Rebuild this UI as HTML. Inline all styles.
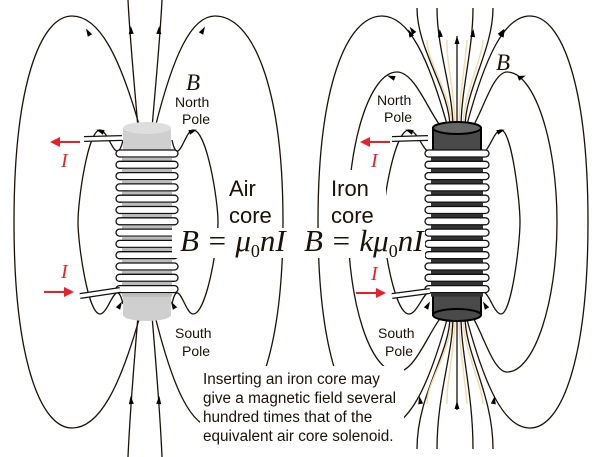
<!DOCTYPE html>
<html><head><meta charset="utf-8"><style>
html,body{margin:0;padding:0;background:#fff}
svg{display:block}
.s{font-family:"Liberation Sans",sans-serif;fill:#1a1208}
.m{font-family:"Liberation Serif",serif;font-style:italic;fill:#1a1208}
</style></head><body>
<svg width="601" height="457" viewBox="0 0 601 457" xmlns="http://www.w3.org/2000/svg">
<g fill="none" stroke="#1a1208" stroke-width="1.3" id="lines"></g>
<g id="coils"></g>
<rect x="172" y="228" width="118" height="30" fill="#fff"/>
<rect x="300" y="228" width="125" height="30" fill="#fff"/>
<rect x="226" y="170" width="50" height="58" fill="#fff"/>
<rect x="328" y="170" width="58" height="58" fill="#fff"/>
<rect x="200" y="366" width="204" height="82" fill="#fff"/>
<text class="m" x="186" y="90" font-size="23">B</text>
<text class="m" x="496" y="70" font-size="23">B</text>
<text class="s" x="175" y="107" font-size="14">North</text>
<text class="s" x="182" y="124" font-size="14">Pole</text>
<text class="s" x="377" y="105" font-size="14">North</text>
<text class="s" x="384" y="122" font-size="14">Pole</text>
<text class="s" x="175" y="338" font-size="14">South</text>
<text class="s" x="182" y="356" font-size="14">Pole</text>
<text class="s" x="378" y="338" font-size="14">South</text>
<text class="s" x="385" y="356" font-size="14">Pole</text>
<text class="s" x="229" y="196" font-size="22">Air</text>
<text class="s" x="229" y="223" font-size="22">core</text>
<text class="s" x="331" y="196" font-size="22">Iron</text>
<text class="s" x="331" y="223" font-size="22">core</text>
<text class="m" x="180" y="251" font-size="31">B = <tspan>μ</tspan><tspan font-size="18" dy="6" font-style="normal">0</tspan><tspan dy="-6">nI</tspan></text>
<text class="m" x="304" y="251" font-size="31">B = kμ<tspan font-size="18" dy="6" font-style="normal">0</tspan><tspan dy="-6">nI</tspan></text>
<g class="s" font-size="15.3">
<text x="203" y="384">Inserting an iron core may</text>
<text x="203" y="403">give a magnetic field several</text>
<text x="203" y="422">hundred times that of the</text>
<text x="203" y="441">equivalent air core solenoid.</text>
</g>
<g fill="#e8202a" stroke="#e8202a">
<line x1="58" y1="142" x2="80" y2="142" stroke-width="2"/><path d="M50,142 L60,137 L60,147z" stroke="none"/>
<line x1="44" y1="292" x2="66" y2="292" stroke-width="2"/><path d="M74,292 L64,287 L64,297z" stroke="none"/>
<line x1="368" y1="142" x2="390" y2="142" stroke-width="2"/><path d="M360,142 L370,137 L370,147z" stroke="none"/>
<line x1="356" y1="293" x2="378" y2="293" stroke-width="2"/><path d="M386,293 L376,288 L376,298z" stroke="none"/>
</g>
<g class="m" font-size="20" style="fill:#e8202a">
<text x="61" y="167">I</text><text x="61" y="278">I</text>
<text x="371" y="167">I</text><text x="371" y="280">I</text>
</g>
</svg>
<script>
const NS="http://www.w3.org/2000/svg";
const L=document.getElementById("lines"),C=document.getElementById("coils");
function p(d,col,w){const e=document.createElementNS(NS,"path");e.setAttribute("d",d);if(col)e.setAttribute("stroke",col);if(w)e.setAttribute("stroke-width",w);L.appendChild(e);return e;}
function arrow(x,y,ang){const e=document.createElementNS(NS,"path");e.setAttribute("d","M-4,-2.5 L4,0 L-4,2.5z");e.setAttribute("fill","#000");e.setAttribute("stroke","none");e.setAttribute("transform",`translate(${x},${y}) rotate(${ang})`);L.appendChild(e);}
const M=222;
function loop(sx,ax,ay,ex,topY){
  const by=2*M-ay, bs=2*M-topY;
  p(`M${sx} ${topY} C${sx+(ax-sx)*0.3} ${ay+40}, ${ax+(sx-ax)*0.4} ${ay}, ${ax} ${ay} C${ax+(ex-ax)*0.55} ${ay}, ${ex} ${ay+70}, ${ex} ${M} C${ex} ${by-70}, ${ax+(ex-ax)*0.55} ${by}, ${ax} ${by} C${ax+(sx-ax)*0.4} ${by}, ${sx+(ax-sx)*0.3} ${by-40}, ${sx} ${bs}`);
}
loop(140,72,16,14,128); loop(155,215,16,283,128);
loop(123,100,130,78,140); loop(172,193,130,218,140);
p("M138 128 C134 80,130 40,128 0"); p("M152 128 C156 80,160 40,162 0");
p("M138 316 C134 364,130 410,128 457"); p("M152 316 C156 364,160 410,162 457");
arrow(88,32,-120);arrow(203,30,-60);arrow(131,30,-93);arrow(159,30,-87);
arrow(100,131,-160);arrow(193,131,-20);arrow(120,305,-60);arrow(173,305,-120);
arrow(131,400,-95);arrow(159,400,-85);
loop(448,382,16,318,128); loop(466,530,16,588,128);
loop(442,397,72,348,128); loop(472,507,72,557,128);
loop(436,409,130,383,142); loop(478,501,130,520,142);
[[450,417],[453,437],[457,457],[461,473],[465,493]].forEach(([s,e],i)=>{
  p(`M${s} 128 C${s} 90,${e} 50,${e} ${i==2?36:8}`);
  p(`M${s} 316 C${s} 354,${e} 394,${e} ${i==2?410:449}`);
  if(i<4){p(`M${s+2} 128 C${s+2} 95,${e+9} 60,${e+10} 40`,"#f0dcb0",1.5);p(`M${s+2} 316 C${s+2} 349,${e+9} 384,${e+10} 404`,"#f0dcb0",1.5);}
});
arrow(410,33,-115);arrow(440,33,-95);arrow(457,40,-90);arrow(473,33,-85);arrow(503,33,-65);
arrow(412,30,-125);arrow(502,32,-55);arrow(391,77,-160);arrow(522,77,-20);
arrow(409,131,-160);arrow(501,131,-20);arrow(428,305,-60);arrow(485,305,-120);
arrow(457,405,-90);arrow(420,400,-100);arrow(494,400,-80);
function coil(cx,coreW,coilW,dark){
  const g=document.createElementNS(NS,"g");C.appendChild(g);
  const x0=cx-coreW/2;
  g.innerHTML=`<rect x="${x0}" y="128" width="${coreW}" height="187" fill="${dark?'#4a4a4a':'#cfcfcf'}" stroke="${dark?'#000':'none'}" stroke-width="2"/>
  <ellipse cx="${cx}" cy="128" rx="${coreW/2}" ry="6" fill="${dark?'#666':'#dedede'}" stroke="${dark?'#000':'none'}" stroke-width="2"/>
  <ellipse cx="${cx}" cy="315" rx="${coreW/2}" ry="6" fill="${dark?'#4a4a4a':'#cfcfcf'}" stroke="${dark?'#000':'none'}" stroke-width="2"/>`;
  let s="";
  for(let i=0;i<13;i++){const y=150+i*11.3;
    s+=`<rect x="${cx-coilW/2}" y="${y}" width="${coilW}" height="7" rx="3.5" fill="#fff" stroke="#111" stroke-width="1.3"/>`;
    s+=`<rect x="${cx-coilW/2+6}" y="${y+7.5}" width="${coilW-12}" height="3.5" fill="${dark?'#333':'#bbb'}"/>`;
  }
  g.innerHTML+=s;
}
coil(147,48,62,false); coil(457,48,64,true);
const w=document.createElementNS(NS,"g");C.appendChild(w);
w.innerHTML=`<path d="M84 139 L122 138 M80 296 L120 290 M392 139 L428 138 M392 296 L430 291" stroke="#111" stroke-width="6" fill="none"/>
<path d="M84 139 L122 138 M80 296 L120 290 M392 139 L428 138 M392 296 L430 291" stroke="#fff" stroke-width="3.5" fill="none"/>`;
</script>
</body></html>
